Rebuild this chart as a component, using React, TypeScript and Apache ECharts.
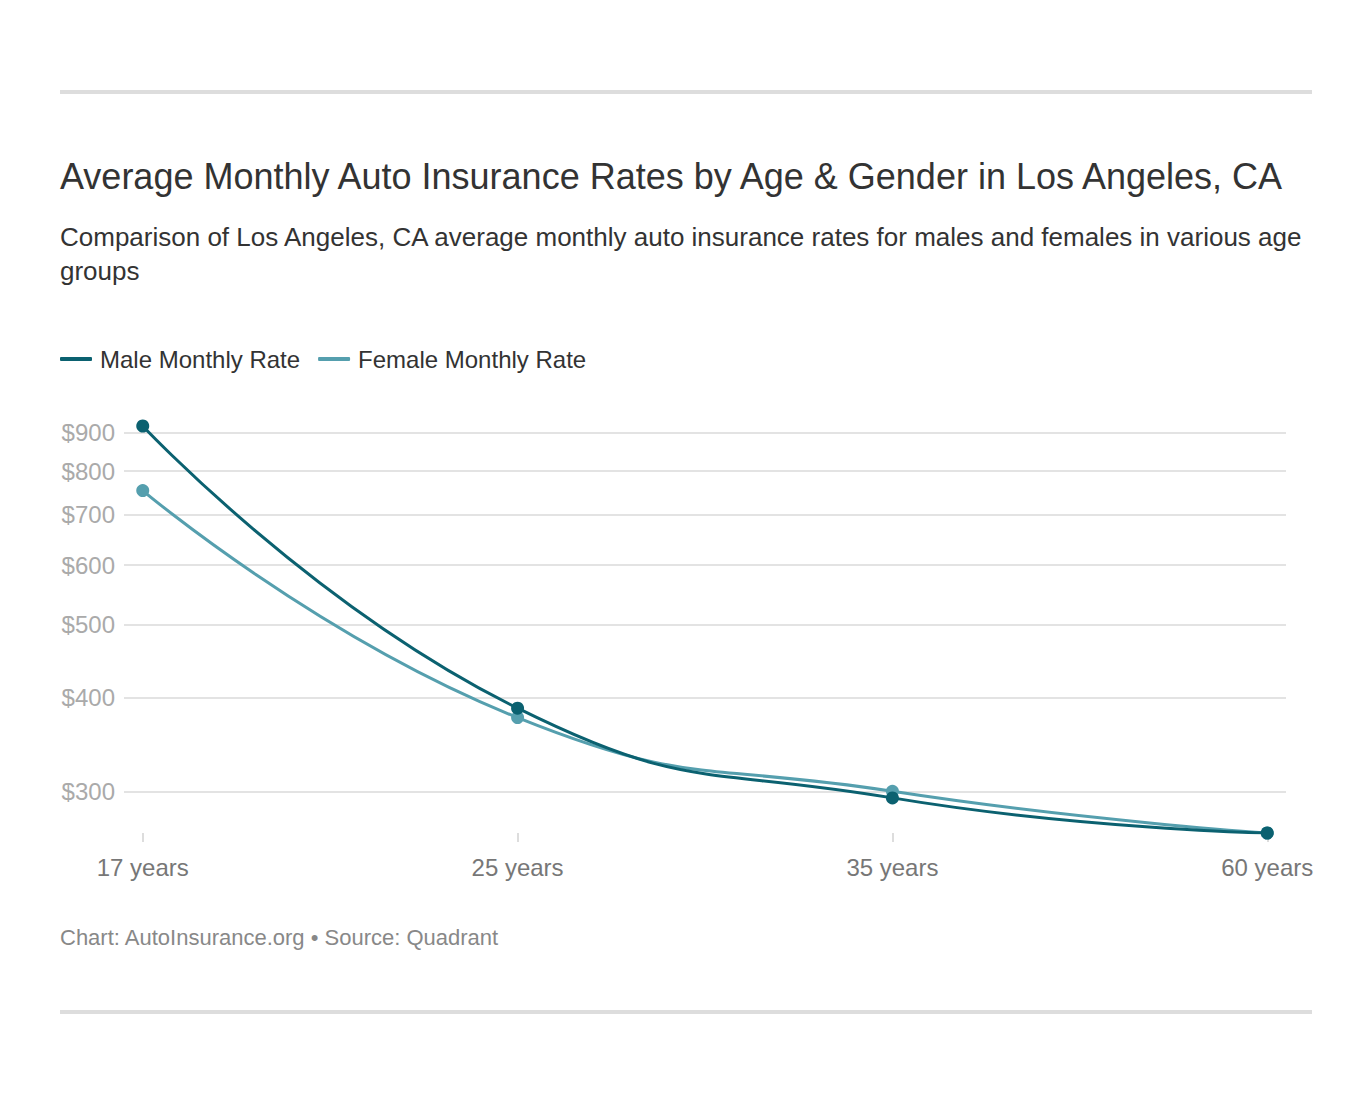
import React, { useEffect, useRef } from "react";
import * as echarts from "echarts";

const categories = ["17 years", "25 years", "35 years", "60 years"];
const maleRates = [919, 387, 294, 264];
const femaleRates = [754, 376, 300, 264];
const yTicks = [300, 400, 500, 600, 700, 800, 900];
const xTicks = [0, 1, 2, 3];

const FONT = "'Liberation Sans', Arial, Helvetica, sans-serif";
const MALE = "#0b6170";
const FEMALE = "#559fae";

export default function App() {
  const ref = useRef<HTMLDivElement>(null);
  useEffect(() => {
    if (!ref.current) return;
    const chart = echarts.init(ref.current, undefined, { renderer: "svg" });
    chart.setOption({
      animation: false,
      backgroundColor: "#ffffff",
      textStyle: { fontFamily: FONT },
      graphic: [
        { type: "rect", shape: { x: 60, y: 90, width: 1252, height: 4 }, style: { fill: "#dddddd" } },
        { type: "rect", shape: { x: 60, y: 1010, width: 1252, height: 4 }, style: { fill: "#dddddd" } },
        {
          type: "text",
          x: 60,
          y: 176,
          style: {
            text: "Average Monthly Auto Insurance Rates by Age & Gender in Los Angeles, CA",
            font: `36px ${FONT}`,
            fill: "#333333",
            verticalAlign: "middle",
          },
        },
        {
          type: "text",
          x: 60,
          y: 254,
          style: {
            text:
              "Comparison of Los Angeles, CA average monthly auto insurance rates for males and females in various age\ngroups",
            font: `26px ${FONT}`,
            lineHeight: 34,
            fill: "#333333",
            verticalAlign: "middle",
          },
        },
        {
          type: "text",
          x: 60,
          y: 937,
          style: {
            text: "Chart: AutoInsurance.org \u2022 Source: Quadrant",
            font: `22px ${FONT}`,
            fill: "#888888",
            verticalAlign: "middle",
          },
        },
      ],
      legend: {
        left: 55,
        top: 342,
        icon: "roundRect",
        itemWidth: 32,
        itemHeight: 4,
        itemGap: 18,
        textStyle: { fontSize: 24, color: "#333333", fontFamily: FONT, padding: [0, 0, 0, 3] },
        data: ["Male Monthly Rate", "Female Monthly Rate"],
      },
      grid: { left: 124, right: 86, top: 426, bottom: 1104 - 833, containLabel: false },
      xAxis: {
        type: "value",
        min: -0.05,
        max: 3.05,
        axisLine: { show: false },
        splitLine: { show: false },
        axisTick: { show: true, length: 9, customValues: xTicks, lineStyle: { color: "#dddddd", width: 2 } },
        axisLabel: {
          customValues: xTicks,
          formatter: (v: number) => categories[Math.round(v)] ?? "",
          fontSize: 24,
          color: "#777777",
          margin: 22,
          fontFamily: FONT,
        },
      },
      yAxis: {
        type: "log",
        logBase: 10,
        min: 264,
        max: 919,
        axisLine: { show: false },
        axisTick: { show: false, customValues: yTicks },
        splitLine: { show: true, lineStyle: { color: "#e3e3e3", width: 2 } },
        axisLabel: {
          customValues: yTicks,
          formatter: (v: number) => "$" + Math.round(v),
          fontSize: 24,
          color: "#aaaaaa",
          margin: 9,
          fontFamily: FONT,
        },
      },
      series: [
        {
          name: "Male Monthly Rate",
          type: "line",
          data: maleRates.map((v, i) => [i, v]),
          smooth: 0.5,
          symbol: "circle",
          symbolSize: 13,
          showSymbol: true,
          lineStyle: { color: MALE, width: 3 },
          itemStyle: { color: MALE },
          z: 3,
        },
        {
          name: "Female Monthly Rate",
          type: "line",
          data: femaleRates.map((v, i) => [i, v]),
          smooth: 0.5,
          symbol: "circle",
          symbolSize: 13,
          showSymbol: true,
          lineStyle: { color: FEMALE, width: 3 },
          itemStyle: { color: FEMALE },
          z: 2,
        },
      ],
    });
    return () => chart.dispose();
  }, []);
  return (
    <div
      ref={ref}
      style={{ position: "fixed", left: 0, top: 0, width: 1372, height: 1104, background: "#fff" }}
    />
  );
}
